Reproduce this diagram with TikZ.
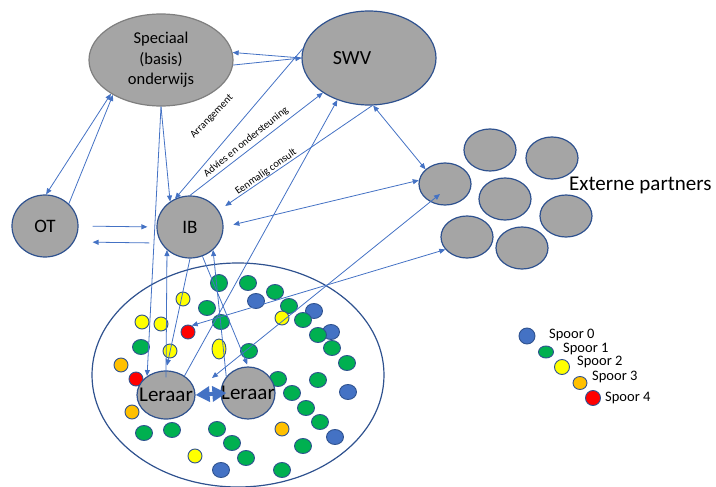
\documentclass[tikz,border=0pt]{standalone}
\usepackage{fontspec}
\setmainfont{Carlito}
\usetikzlibrary{shapes.geometric,arrows.meta}
\definecolor{vlakgrijs}{HTML}{A5A5A5}
\definecolor{randblauw}{HTML}{2F528F}
\definecolor{randgrijs}{HTML}{7F7F7F}
\definecolor{lijnblauw}{HTML}{4472C4}
\definecolor{spoornul}{HTML}{4472C4}
\definecolor{spoorgroen}{HTML}{00B050}
\definecolor{spoorgeel}{HTML}{FFFF00}
\definecolor{spoororanje}{HTML}{FFC000}
\definecolor{spoorrood}{HTML}{FF0000}

\begin{document}
\begin{tikzpicture}[x=1pt,y=-1pt,>={Triangle[length=6pt,width=5pt]},
 bol/.style={ellipse,draw=randblauw,line width=1.2pt,fill=vlakgrijs,inner sep=0pt},
 stip/.style={ellipse,draw=randblauw,line width=0.9pt,inner sep=0pt,
  minimum width=14pt,minimum height=14pt},
 pijl/.style={lijnblauw,line width=0.8pt,->},
 tweepijl/.style={lijnblauw,line width=0.8pt,<->},
 klein/.style={font=\fontsize{10.5}{12}\selectfont},
 legtekst/.style={font=\fontsize{14.5}{17}\selectfont,anchor=west,inner sep=0pt}]
 \useasboundingbox (0,0) rectangle (716,487);
 \node[ellipse,draw=randblauw,line width=1.2pt,minimum width=292pt,
  minimum height=224pt] (klas) at (238,375) {};
 \foreach \p [count=\i] in {(256,301),(314,311),(331,332),(348,392),(335,437),(221,470)}
  \node[stip,fill=spoornul,minimum width=17pt,minimum height=15pt] (blauw\i) at \p {};
 \node[stip,fill=spoorgroen,minimum width=17pt,minimum height=17pt] (groen0) at (219,283) {};
 \foreach \p [count=\i] in {(248,283),(275,292),(207,308),(289,306),(221,322),(303,320),
  (141,347),(318,335),(332,348),(249,351),(347,363),(278,379),(318,380),(292,393),
  (306,408),(320,422),(303,446),(144,433),(172,430),(217,429),(232,443),(246,458),(282,470)}
  \node[stip,fill=spoorgroen,minimum width=17pt,minimum height=15pt] (groen\i) at \p {};
 \foreach \p [count=\i] in {(183,299),(142,322),(161,324),(282,318),(170,351),(195,456)}
  \node[stip,fill=spoorgeel] (geel\i) at \p {};
 \node[stip,fill=spoorgeel,minimum height=20pt] (geel7) at (219,349) {};
 \foreach \p [count=\i] in {(121,365),(132,412),(282,429)}
  \node[stip,fill=spoororanje] (oranje\i) at \p {};
 \node[stip,fill=spoorrood] (rood1) at (188,332) {};
 \node[stip,fill=spoorrood] (rood2) at (136,379) {};

 \node[bol,draw=randgrijs,minimum width=144pt,minimum height=92pt,align=center,
  font=\fontsize{16.5}{20.5}\selectfont] (spec) at (161,60) {Speciaal\\(basis)\\onderwijs};
 \node[bol,minimum width=134pt,minimum height=94pt,
  label={[font=\fontsize{20}{24}\selectfont,xshift=-17pt]center:SWV}] (swv) at (369,58) {};
 \node[bol,minimum width=66pt,minimum height=62pt,font=\fontsize{19}{23}\selectfont] (ot) at (45,226) {OT};
 \node[bol,minimum width=66pt,minimum height=62pt,font=\fontsize{19}{23}\selectfont] (ib) at (190,227) {IB};
 \node[bol,minimum width=58pt,minimum height=48pt,font=\fontsize{21}{25}\selectfont] (ler1) at (166,395) {\makebox[0pt]{Leraar}};
 \node[bol,minimum width=54pt,minimum height=52pt,font=\fontsize{21}{25}\selectfont] (ler2) at (248,393) {\makebox[0pt]{Leraar}};
 \foreach \p [count=\i] in {(445,184),(490,150),(552,158),(505,199),(566,216),(467,237),(522,248)}
  \node[bol,minimum width=52pt,minimum height=42pt] (ext\i) at \p {};
 \node[font=\fontsize{21}{25}\selectfont,anchor=west,inner sep=0pt] (extern) at (569,185) {Externe partners};

 \foreach \kl/\x/\y/\w/\h/\tx/\ty [count=\i from 0] in {spoornul/527/336/16/16/549/335,
  spoorgroen/546/352/15/12/563/349,spoorgeel/562/367/15/15/577/362,
  spoororanje/580/383/14/13/592/377,spoorrood/593/398/15/15/605/398}
  {\node[stip,fill=\kl,minimum width=\w pt,minimum height=\h pt] (leg\i) at (\x,\y) {};
   \node[legtekst] (legt\i) at (\tx,\ty) {Spoor \i};}

 \draw[pijl] (swv.west) -- (spec.6);
 \draw[pijl] (spec.-4) -- (swv.west);
 \draw[tweepijl] (spec.-146) -- (ot.88);
 \draw[pijl] (ot.43) -- (spec.-144);
 \draw[pijl,shorten <=14pt,shorten >=9pt] (ot.east) -- (ib.west);
 \draw[pijl,shorten <=7pt,shorten >=14pt] ([yshift=-16pt]ib.west) -- ([yshift=-16pt]ot.east);
 \draw[pijl] (spec.south) -- (ib.128);
 \draw[pijl] (spec.south) -- (ler1.135);
 \draw[pijl] (swv.172) -- (ib.118);
 \draw[pijl] (ib.north) -- (swv.-143);
 \draw[pijl,shorten >=8pt] (swv.-86) -- (ib.30);
 \draw[tweepijl] (swv.-85) -- (ext1.143);
 \draw[pijl] (ler1.46) -- (swv.-127);
 \draw[tweepijl,shorten <=10pt] (ib.east) -- (ext1.172);
 \coordinate (tussen) at (212,378);
 \draw[tweepijl] (tussen) -- ([xshift=-5pt,yshift=-10pt]ext1.center);
 \draw[tweepijl] (rood1.60) -- (ext6.-150);
 \draw[pijl] ([yshift=-7pt]ler1.north) -- (ib.-135);
 \draw[pijl,shorten >=5pt] (ib.south) -- (ler1.north);
 \draw[pijl,shorten >=2pt] (ib.-67) -- (ler2.north);
 \draw[pijl] (ler2.143) -- (ib.-45);
 \draw[lijnblauw,line width=4pt,{Triangle[length=14pt,width=15pt]}-{Triangle[length=14pt,width=15pt]}]
  (ler1.east) -- ([xshift=6pt]ler2.west);
 \node[klein,rotate=46] (arrlbl) at (212,117) {Arrangement};
 \node[klein,rotate=39] (advlbl) at (246,142) {Advies en ondersteuning};
 \node[klein,rotate=35] (eenlbl) at (266,172) {Eenmalig consult};
\end{tikzpicture}
\end{document}
